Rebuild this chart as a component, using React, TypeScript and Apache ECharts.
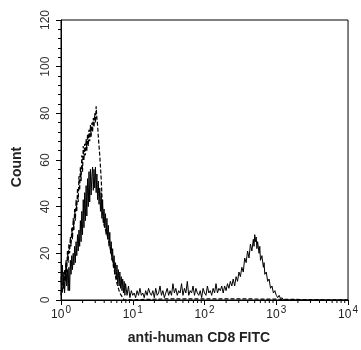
import React, { useEffect, useRef } from 'react';
import * as echarts from 'echarts';

// x values are decades (log10 of fluorescence); y values are counts
const xExponents = ['0', '1', '2', '3', '4'];
const yTickValues = [0, 20, 40, 60, 80, 100, 120];
const minorTickValues = [
  2, 3, 4, 5, 6, 7, 8, 9,
  20, 30, 40, 50, 60, 70, 80, 90,
  200, 300, 400, 500, 600, 700, 800, 900,
  2000, 3000, 4000, 5000, 6000, 7000, 8000, 9000,
];

const solidCounts: [number, number][] = [
  [0.00, 10], [0.01, 4], [0.02, 15], [0.03, 5], [0.04, 12], [0.05, 3], [0.06, 9], [0.07, 16],
  [0.08, 6], [0.09, 13], [0.10, 4], [0.11, 14], [0.12, 4], [0.13, 17], [0.14, 11], [0.15, 19],
  [0.16, 13], [0.17, 20], [0.18, 15], [0.19, 23], [0.20, 16], [0.21, 25], [0.22, 19], [0.23, 28],
  [0.24, 21], [0.25, 30], [0.26, 23], [0.27, 34], [0.28, 25], [0.29, 38], [0.30, 28], [0.31, 43],
  [0.32, 31], [0.33, 46], [0.34, 34], [0.35, 49], [0.36, 36], [0.37, 52], [0.38, 40], [0.39, 55],
  [0.40, 42], [0.41, 56], [0.42, 45], [0.43, 53], [0.44, 57], [0.45, 47], [0.46, 56], [0.47, 48],
  [0.48, 57], [0.49, 46], [0.50, 54], [0.51, 43], [0.52, 51], [0.53, 41], [0.54, 48], [0.55, 38],
  [0.56, 46], [0.57, 35], [0.58, 43], [0.59, 33], [0.60, 39], [0.61, 31], [0.62, 37], [0.63, 28],
  [0.64, 35], [0.65, 26], [0.66, 32], [0.67, 23], [0.68, 29], [0.69, 20], [0.70, 25], [0.71, 17],
  [0.72, 22], [0.73, 14], [0.74, 19], [0.75, 11], [0.76, 16], [0.77, 9], [0.78, 15], [0.79, 7],
  [0.80, 13], [0.81, 6], [0.82, 12], [0.83, 5], [0.84, 10], [0.85, 4], [0.86, 9], [0.87, 3],
  [0.88, 8], [0.89, 2], [0.90, 7], [0.92, 2], [0.94, 6], [0.96, 1], [0.98, 4], [1.00, 2],
  [1.02, 3], [1.04, 1], [1.06, 4], [1.08, 2], [1.10, 5], [1.12, 2], [1.14, 3], [1.16, 1],
  [1.18, 4], [1.20, 2], [1.22, 5], [1.24, 3], [1.26, 2], [1.28, 4], [1.30, 1], [1.32, 5],
  [1.34, 2], [1.36, 3], [1.38, 6], [1.40, 2], [1.42, 4], [1.44, 1], [1.46, 3], [1.48, 5],
  [1.50, 2], [1.52, 4], [1.54, 2], [1.56, 7], [1.58, 3], [1.60, 5], [1.62, 2], [1.64, 4],
  [1.66, 3], [1.68, 7], [1.70, 2], [1.72, 5], [1.74, 3], [1.76, 8], [1.78, 2], [1.80, 4],
  [1.82, 3], [1.84, 6], [1.86, 2], [1.88, 5], [1.90, 3], [1.92, 2], [1.94, 4], [1.96, 1],
  [1.98, 5], [2.00, 3], [2.02, 2], [2.04, 6], [2.06, 3], [2.08, 4], [2.10, 2], [2.12, 5],
  [2.14, 3], [2.16, 7], [2.18, 3], [2.20, 5], [2.22, 4], [2.24, 6], [2.26, 3], [2.28, 6],
  [2.30, 4], [2.32, 7], [2.34, 5], [2.36, 8], [2.38, 6], [2.40, 9], [2.42, 6], [2.44, 10],
  [2.46, 8], [2.48, 12], [2.50, 10], [2.52, 14], [2.54, 12], [2.56, 18], [2.58, 16], [2.60, 21],
  [2.62, 18], [2.64, 24], [2.66, 21], [2.68, 26], [2.69, 23], [2.70, 28], [2.71, 25], [2.72, 27],
  [2.73, 22], [2.74, 25], [2.76, 20], [2.77, 23], [2.78, 17], [2.80, 19], [2.82, 14], [2.83, 16],
  [2.84, 11], [2.86, 12], [2.88, 8], [2.90, 9], [2.92, 5], [2.94, 6], [2.96, 3], [2.98, 4],
  [3.00, 2], [3.02, 1], [3.04, 2], [3.06, 0.5], [3.08, 1], [3.10, 0], [4.00, 0],
];

const dashedCounts: [number, number][] = [
  [0.00, 2], [0.01, 6], [0.02, 3], [0.03, 9], [0.04, 5], [0.05, 13], [0.06, 8], [0.07, 17],
  [0.08, 12], [0.09, 21], [0.10, 16], [0.11, 24], [0.12, 20], [0.13, 27], [0.14, 23], [0.15, 31],
  [0.16, 26], [0.17, 35], [0.18, 30], [0.19, 39], [0.20, 34], [0.21, 43], [0.22, 38], [0.23, 48],
  [0.24, 42], [0.25, 53], [0.26, 47], [0.27, 57], [0.28, 51], [0.29, 62], [0.30, 55], [0.31, 66],
  [0.32, 60], [0.33, 67], [0.34, 62], [0.35, 69], [0.36, 64], [0.37, 71], [0.38, 66], [0.39, 73],
  [0.40, 68], [0.41, 75], [0.42, 70], [0.43, 76], [0.44, 72], [0.45, 78], [0.46, 74], [0.47, 80],
  [0.48, 76], [0.49, 83], [0.50, 78], [0.51, 75], [0.52, 70], [0.53, 66], [0.54, 62], [0.55, 57],
  [0.56, 52], [0.57, 45], [0.58, 38], [0.59, 34], [0.60, 32], [0.62, 30], [0.64, 28], [0.66, 26],
  [0.68, 23], [0.70, 20], [0.72, 17], [0.74, 13], [0.76, 10], [0.78, 7], [0.80, 5], [0.82, 3],
  [0.84, 2], [0.86, 1], [0.88, 0], [1.50, 0.5], [2.50, 0.5], [4.00, 0],
];

const FONT = 'Arial, "Liberation Sans", Helvetica, sans-serif';

export default function App() {
  const ref = useRef<HTMLDivElement>(null);
  useEffect(() => {
    const chart = echarts.init(ref.current!, null, { renderer: 'svg' });
    chart.setOption({
      animation: false,
      grid: {
        left: 61, right: 9, top: 20, bottom: 50,
        show: true, borderColor: '#000', borderWidth: 1, backgroundColor: 'transparent',
      },
      xAxis: {
        type: 'value', min: 0, max: 4, interval: 1,
        axisLine: { show: true, onZero: false, lineStyle: { color: '#000', width: 1 } },
        axisTick: { show: true, length: 5, lineStyle: { color: '#000' } },
        splitLine: { show: false },
        axisLabel: {
          margin: 4,
          formatter: (v: number) => `{b|10}{s|${xExponents[Math.round(v)]}}`,
          rich: {
            b: { fontSize: 12, fontFamily: FONT, color: '#222', lineHeight: 16, verticalAlign: 'bottom' },
            s: { fontSize: 10, fontFamily: FONT, color: '#222', lineHeight: 16, verticalAlign: 'top', padding: [0, 0, 0, 1] },
          },
        },
      },
      yAxis: {
        type: 'value', min: 0, max: 120, interval: 20,
        axisLine: { show: true, onZero: false, lineStyle: { color: '#000', width: 1 } },
        axisTick: { show: true, length: 5, lineStyle: { color: '#000' } },
        minorTick: { show: true, splitNumber: 5, length: 3, lineStyle: { color: '#000' } },
        splitLine: { show: false },
        axisLabel: {
          rotate: 90, margin: 10, fontSize: 12, fontFamily: FONT, color: '#333',
          formatter: (v: number) => (yTickValues.includes(v) ? String(v) : ''),
        },
      },
      series: [
        {
          type: 'line', data: dashedCounts, showSymbol: false, symbol: 'none',
          lineStyle: { color: '#000', width: 1.2, type: [4, 2] }, silent: true, z: 2,
        },
        {
          type: 'line', data: solidCounts, showSymbol: false, symbol: 'none',
          lineStyle: { color: '#000', width: 1 }, silent: true, z: 3,
        },
        {
          type: 'custom', silent: true, clip: false, z: 4,
          data: minorTickValues.map((v) => [v]),
          renderItem: (_params: any, api: any) => {
            const v = api.value(0);
            const p = api.coord([Math.log10(v), 0]);
            return {
              type: 'line',
              shape: { x1: p[0], y1: p[1], x2: p[0], y2: p[1] + 3 },
              style: { stroke: '#000', lineWidth: 1 },
            };
          },
        },
      ],
      graphic: [
        {
          type: 'text', x: 16, y: 167, rotation: Math.PI / 2,
          style: {
            text: 'Count', fontSize: 14, fontWeight: 'bold', fontFamily: FONT, fill: '#222',
            align: 'center', verticalAlign: 'middle',
          },
        },
        {
          type: 'text', x: 199, y: 337,
          style: {
            text: 'anti-human CD8 FITC', fontSize: 14, fontWeight: 'bold', fontFamily: FONT, fill: '#222',
            align: 'center', verticalAlign: 'middle',
          },
        },
      ],
    });
    return () => chart.dispose();
  }, []);
  return <div ref={ref} style={{ position: 'fixed', left: 0, top: 0, width: 361, height: 350 }} />;
}
